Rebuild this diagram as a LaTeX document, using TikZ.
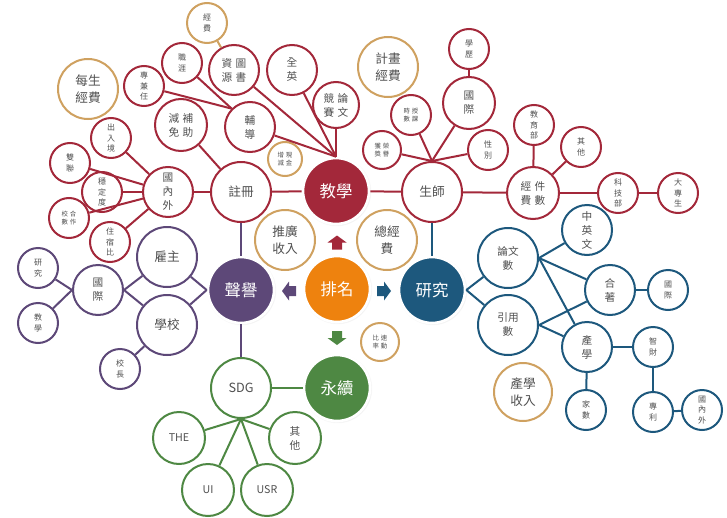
\documentclass[tikz,border=0pt]{standalone}
\usepackage{fontspec}
\setmainfont{Noto Sans CJK TC}
\usepackage{tikz}
\usetikzlibrary{shadows}
\definecolor{jxrouge}{HTML}{A3283A}
\definecolor{symauve}{HTML}{5D4878}
\definecolor{yjbleu}{HTML}{1D587D}
\definecolor{yxvert}{HTML}{4E8843}
\definecolor{pmorange}{HTML}{EE820E}
\definecolor{jfor}{HTML}{CFA160}
\definecolor{txtgris}{HTML}{505050}
\newcommand{\jxcol}{jxrouge}
\newcommand{\sycol}{symauve}
\newcommand{\yjcol}{yjbleu}
\newcommand{\yxcol}{yxvert}
\newcommand{\pmcol}{pmorange}
\newcommand{\jfcol}{jfor}
\newcommand{\fpole}{\fontsize{12.3}{16}\selectfont}
\newcommand{\fgros}{\fontsize{9.5}{12.5}\selectfont}
\newcommand{\fmoy}{\fontsize{8}{10.5}\selectfont}
\newcommand{\fpetit}{\fontsize{6}{7.8}\selectfont}
\newcommand{\fmini}{\fontsize{4.8}{6.3}\selectfont}
\newcommand{\ic}{\hspace{.3em}}
\newcommand{\fleche}[3]{\fill[#1, shift={#2}, rotate=#3] (-7,-5) -- (0,-5) -- (0,-9.5) -- (7,0) -- (0,9.5) -- (0,5) -- (-7,5) -- cycle;}

\begin{document}
\begin{tikzpicture}[x=0.75pt, y=-0.75pt,
    rond/.style={circle, fill=white, line width=1.5pt, inner sep=0pt, align=center, text=txtgris, minimum size=#1*1.5pt},
    ens/.style={rond=#1, draw=\jxcol},
    rep/.style={rond=#1, draw=\sycol},
    rech/.style={rond=#1, draw=\yjcol},
    dur/.style={rond=#1, draw=\yxcol},
    fin/.style={rond=#1, draw=\jfcol},
    pole/.style={circle, fill=#1, draw=white, line width=2pt, inner sep=0pt, minimum size=49.5pt, text=white, font=\fpole,
      circular drop shadow={shadow xshift=0.3pt, shadow yshift=-0.3pt, shadow scale=1.06, opacity=0.3}},
    lien/.style={line width=1.5pt}]

    \useasboundingbox (0,0) rectangle (727,517);

    % poles
    \node[pole=\jxcol] (jx) at (336,191) {教學};
    \node[pole=\pmcol] (pm) at (337,289) {排名};
    \node[pole=\sycol] (sy) at (241,290) {聲譽};
    \node[pole=\yjcol] (yj) at (432,290) {研究};
    \node[pole=\yxcol] (yx) at (337,388) {永續};

    \fleche{\jxcol}{(337,242.5)}{90}
    \fleche{\sycol}{(289,291)}{180}
    \fleche{\yjcol}{(384,291)}{0}
    \fleche{\yxcol}{(337,338)}{-90}

    % finances
    \node[fin=30, font=\fgros] (mj) at (88,89) {每生\\經費};
    \node[fin=20, font=\fpetit] (jfa) at (207,23) {經\\費};
    \node[fin=30, font=\fgros] (jh) at (388,67) {計畫\\經費};
    \node[fin=17, font=\fmini] (xj) at (285,159) {增\ic 現\\減\ic 金};
    \node[fin=30, font=\fgros] (tg) at (285,240) {推廣\\收入};
    \node[fin=30, font=\fgros] (zj) at (387,240) {總經\\費};
    \node[fin=19, font=\fmini] (sd) at (380,342) {比\ic 速\\率\ic 動};
    \node[fin=29, font=\fgros] (cs) at (523,392) {產學\\收入};

    % enseignement
    \node[ens=30, font=\fgros] (zc) at (241,192) {註冊};
    \node[ens=30, font=\fgros] (ss) at (432,192) {生師};
    \node[ens=26, font=\fmoy] (jf) at (533,193) {經\ic 件\\費\ic 數};
    \node[ens=20, font=\fpetit] (kj) at (618,193) {科\\技\\部};
    \node[ens=20, font=\fpetit] (dz) at (678,193) {大\\專\\生};
    \node[ens=20, font=\fpetit] (jy) at (534,125) {教\\育\\部};
    \node[ens=20, font=\fpetit] (qta) at (581,147) {其\\他};
    \node[ens=20, font=\fpetit] (xl) at (469,49) {學\\歷};
    \node[ens=26, font=\fmoy] (gja) at (469,103) {國\\際};
    \node[ens=20, font=\fpetit] (xb) at (488,150) {性\\別};
    \node[ens=20, font=\fmini] (sk) at (411,115) {時\ic 授\\數\ic 課};
    \node[ens=19, font=\fmini] (ry) at (382,150) {獲\ic 榮\\獎\ic 譽};
    \node[ens=23, font=\fmoy] (lw) at (336,105) {競\ic 論\\賽\ic 文};
    \node[ens=25, font=\fmoy] (qy) at (292,70) {全\\英};
    \node[ens=25, font=\fmoy] (ts) at (234,70) {資\ic 圖\\源\ic 書};
    \node[ens=25, font=\fmoy] (fd) at (250,127) {輔\\導};
    \node[ens=20, font=\fpetit] (zy) at (182,63) {職\\涯};
    \node[ens=20, font=\fpetit] (jr) at (144,86) {專\\兼\\任};
    \node[ens=26, font=\fmoy] (jm) at (181,125) {減\ic 補\\免\ic 助};
    \node[ens=25, font=\fmoy] (gnw) at (168,192) {國\\內\\外};
    \node[ens=20, font=\fpetit] (cr) at (111,138) {出\\入\\境};
    \node[ens=20, font=\fpetit] (sl) at (70,163) {雙\\聯};
    \node[ens=20, font=\fpetit] (wd) at (102,192) {穩\\定\\度};
    \node[ens=20, font=\fmini] (hz) at (69,218) {校\ic 合\\數\ic 作};
    \node[ens=20, font=\fpetit] (zs) at (110,242) {住\\宿\\比};

    % reputation
    \node[rep=30, font=\fgros] (gz) at (167,257) {雇主};
    \node[rep=30, font=\fgros] (xx) at (167,325) {學校};
    \node[rep=25, font=\fmoy] (gjb) at (98,290) {國\\際};
    \node[rep=20, font=\fpetit] (yjb) at (38,268) {研\\究};
    \node[rep=20, font=\fpetit] (jxb) at (38,323) {教\\學};
    \node[rep=20, font=\fpetit] (xz) at (120,369) {校\\長};

    % recherche
    \node[rech=30, font=\fmoy] (lws) at (508,258) {論文\\數};
    \node[rech=30, font=\fmoy] (yys) at (508,325) {引用\\數};
    \node[rech=25, font=\fmoy] (zyw) at (587,230) {中\\英\\文};
    \node[rech=25, font=\fmoy] (hzb) at (610,290) {合\\著};
    \node[rech=20, font=\fpetit] (gjc) at (668,290) {國\\際};
    \node[rech=25, font=\fmoy] (cx) at (587,347) {產\\學};
    \node[rech=20, font=\fpetit] (zcb) at (653,347) {智\\財};
    \node[rech=20, font=\fpetit] (js) at (586,410) {家\\數};
    \node[rech=20, font=\fpetit] (zl) at (653,412) {專\\利};
    \node[rech=20, font=\fpetit] (gnwb) at (702,410) {國\\內\\外};

    % durabilite
    \node[dur=30, font=\fgros] (sdg) at (241,388) {SDG};
    \node[dur=26, font=\fmoy] (the) at (179,438) {THE};
    \node[dur=26, font=\fmoy] (qtb) at (295,438) {其\\他};
    \node[dur=26, font=\fmoy] (ui) at (208,490) {UI};
    \node[dur=26, font=\fmoy] (usr) at (267,490) {USR};

    % liens enseignement
    \draw[lien, \jxcol] (zc) -- (jx);
    \draw[lien, \jxcol] (jx) -- (ss);
    \draw[lien, \jxcol] (zc) -- (gnw);
    \draw[lien, \jxcol] (zc) -- (jm);
    \draw[lien, \jxcol] (ss) -- (jf);
    \draw[lien, \jxcol] (jf) -- (kj);
    \draw[lien, \jxcol] (kj) -- (dz);
    \draw[lien, \jxcol] (jf) -- (jy);
    \draw[lien, \jxcol] (jf) -- (qta);
    \draw[lien, \jxcol] (gja) -- (xl);
    \draw[lien, \jxcol] (ss.north) -- (gja);
    \draw[lien, \jxcol] (ss.north) -- (sk);
    \draw[lien, \jxcol] (ss.north) -- (xb);
    \draw[lien, \jxcol] (ss.north) -- (ry);
    \draw[lien, \jxcol] (jx.north) -- (lw);
    \draw[lien, \jxcol] (jx.north) -- (qy);
    \draw[lien, \jxcol] (jx.north) -- (ts);
    \draw[lien, \jxcol] (jx.north) -- (fd);
    \draw[lien, \jxcol] (fd.north west) -- (zy);
    \draw[lien, \jxcol] (fd.north west) -- (jr);
    \draw[lien, \jxcol] (gnw) -- (cr);
    \draw[lien, \jxcol] (gnw) -- (sl);
    \draw[lien, \jxcol] (gnw) -- (wd);
    \draw[lien, \jxcol] (gnw) -- (hz);
    \draw[lien, \jxcol] (gnw) -- (zs);
    \draw[lien, \jfcol] (jfa) -- (ts);

    % liens reputation
    \draw[lien, \sycol] (zc) -- (sy);
    \draw[lien, \sycol] (sy) -- (sdg);
    \draw[lien, \sycol] (sy.west) -- (gz);
    \draw[lien, \sycol] (sy.west) -- (xx);
    \draw[lien, \sycol] (gjb.east) -- (gz);
    \draw[lien, \sycol] (gjb.east) -- (xx);
    \draw[lien, \sycol] (gjb.west) -- (yjb);
    \draw[lien, \sycol] (gjb.west) -- (jxb);
    \draw[lien, \sycol] (xx) -- (xz);

    % liens recherche
    \draw[lien, \yjcol] (ss) -- (yj);
    \draw[lien, \yjcol] (yj.east) -- (lws);
    \draw[lien, \yjcol] (yj.east) -- (yys);
    \draw[lien, \yjcol] (lws.east) -- (zyw);
    \draw[lien, \yjcol] (lws.east) -- (hzb);
    \draw[lien, \yjcol] (lws.east) -- (cx);
    \draw[lien, \yjcol] (yys.east) -- (hzb);
    \draw[lien, \yjcol] (yys.east) -- (cx);
    \draw[lien, \yjcol] (hzb) -- (gjc);
    \draw[lien, \yjcol] (cx) -- (zcb);
    \draw[lien, \yjcol] (cx) -- (js);
    \draw[lien, \yjcol] (zcb) -- (zl);
    \draw[lien, \yjcol] (zl) -- (gnwb);

    % liens durabilite
    \draw[lien, \yxcol] (sdg) -- (yx);
    \draw[lien, \yxcol] (sdg.south) -- (the);
    \draw[lien, \yxcol] (sdg.south) -- (qtb);
    \draw[lien, \yxcol] (sdg.south) -- (ui);
    \draw[lien, \yxcol] (sdg.south) -- (usr);

\end{tikzpicture}
\end{document}
